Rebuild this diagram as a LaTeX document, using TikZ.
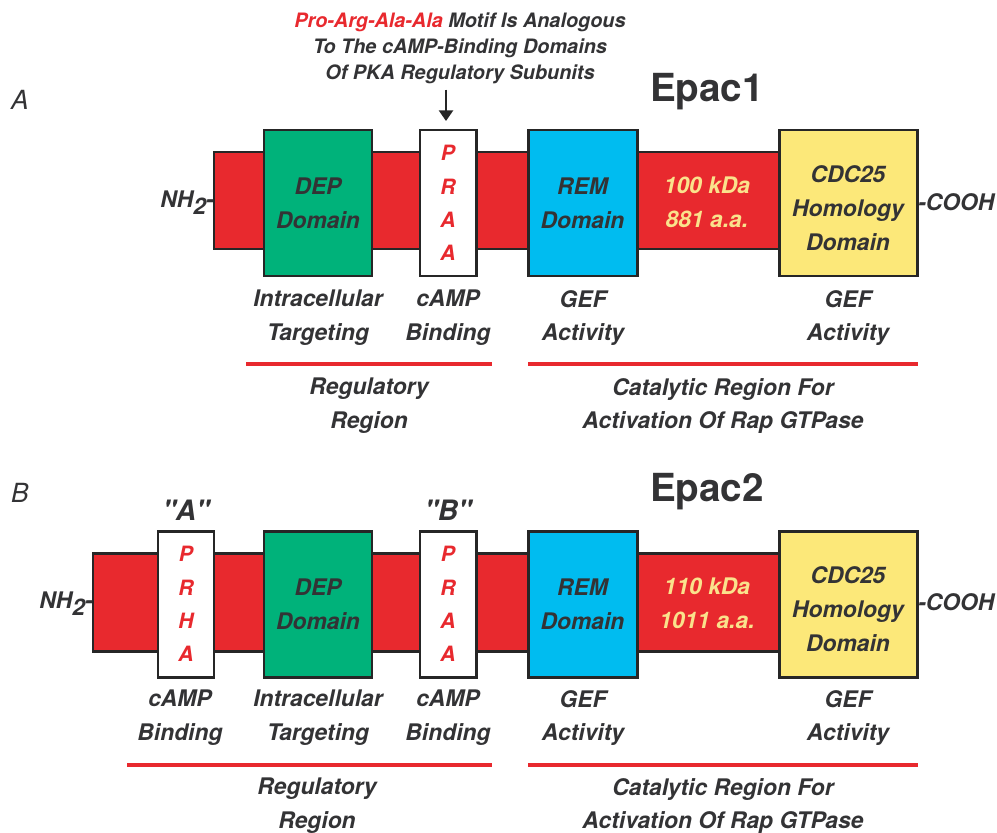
\documentclass[tikz,border=0pt]{standalone}
\usepackage{fontspec}
\setmainfont{TeX Gyre Heros}
\newfontfamily\quotefont{TeX Gyre Heros}
\usetikzlibrary{arrows.meta}
\definecolor{barred}{RGB}{232,41,46}
\definecolor{depgreen}{RGB}{0,178,122}
\definecolor{remblue}{RGB}{0,188,240}
\definecolor{cdcyellow}{RGB}{252,232,121}
\definecolor{inktext}{RGB}{51,51,53}
\definecolor{masstext}{RGB}{250,226,140}
\newcommand{\lblfont}{\fontsize{13}{19.3}\selectfont\bfseries\itshape}
\newcommand{\notefont}{\fontsize{11.3}{14.8}\selectfont\bfseries\itshape}
\newcommand{\titlefont}{\fontsize{22}{26}\selectfont\bfseries}
\newcommand{\panelfont}{\fontsize{15}{18}\selectfont\itshape}
\newcommand{\sitefont}{\fontsize{16}{19}\selectfont\quotefont\bfseries\itshape}
\tikzset{
    part/.style={draw=black!85, line width=1.7pt},
    lbl/.style={text=inktext, align=center, font=\lblfont},
    residue/.style={text=barred, align=center, font=\fontsize{12}{19}\selectfont\bfseries\itshape},
    region/.style={draw=barred, line width=1.8pt},
}

\begin{document}
\begin{tikzpicture}[x=0.02cm, y=-0.02cm]
    \useasboundingbox (0, 0) rectangle (997, 832);
    % Epac1
    \node[text=inktext, font=\panelfont] (panelA) at (20, 100) {A};
    \node[text=inktext, font=\titlefont] (epacA) at (707, 92) {Epac1};
    \node[lbl, font=\notefont] (motif) at (460, 48) {\textcolor{barred}{Pro-Arg-Ala-Ala} Motif Is Analogous\\To The cAMP-Binding Domains\\Of PKA Regulatory Subunits};
    \filldraw[part, fill=barred] (214, 152) rectangle (779, 249);
    \filldraw[part, fill=depgreen] (264, 130) rectangle (372, 276) node[pos=.5, lbl] (depA) {DEP\\Domain};
    \filldraw[part, fill=white] (420, 130) rectangle (476, 276) node[pos=.5, residue] (praaA) {P\\R\\A\\A};
    \filldraw[part, fill=remblue] (528, 130) rectangle (637, 276) node[pos=.5, lbl] (remA) {REM\\Domain};
    \filldraw[part, fill=cdcyellow] (779, 130) rectangle (917, 276) node[pos=.5, lbl, yshift=-3] (cdcA) {CDC25\\Homology\\Domain};
    \node[lbl, text=masstext] (massA) at (707, 202) {100 kDa\\881 a.a.};
    \node[lbl, anchor=east, inner sep=0pt] (nA) at (214, 203) {NH\raisebox{-4pt}{2}-};
    \node[lbl, anchor=west, inner sep=0pt] (cA) at (918, 202) {-COOH};
    \coordinate (praaAtop) at (446, 121);
    \draw[-{Triangle[width=8pt, length=6pt]}, line width=1.1pt, black!85] (motif.south -| praaAtop) -- (praaAtop);
    \node[lbl] (tgtA) at (318, 318) {Intracellular\\Targeting};
    \node[lbl] (bindA) at (448, 318) {cAMP\\Binding};
    \node[lbl] (gefremA) at (583, 318) {GEF\\Activity};
    \node[lbl] (gefcdcA) at (848, 318) {GEF\\Activity};
    \draw[region] (246, 364) -- (492, 364);
    \draw[region] (528, 364) -- (918, 364);
    \node[lbl] (regA) at (369, 406) {Regulatory\\Region};
    \node[lbl] (catA) at (723, 406) {Catalytic Region For\\Activation Of Rap GTPase};
    % Epac2
    \node[text=inktext, font=\panelfont] (panelB) at (20, 493) {B};
    \node[text=inktext, font=\titlefont] (epacB) at (707, 492) {Epac2};
    \filldraw[part, fill=barred] (93, 553) rectangle (779, 651);
    \filldraw[part, fill=white] (158, 531) rectangle (214, 677) node[pos=.5, residue] (prhaB) {P\\R\\H\\A};
    \filldraw[part, fill=depgreen] (264, 531) rectangle (372, 677) node[pos=.5, lbl] (depB) {DEP\\Domain};
    \filldraw[part, fill=white] (420, 531) rectangle (476, 677) node[pos=.5, residue] (praaB) {P\\R\\A\\A};
    \filldraw[part, fill=remblue] (528, 531) rectangle (637, 677) node[pos=.5, lbl] (remB) {REM\\Domain};
    \filldraw[part, fill=cdcyellow] (779, 531) rectangle (917, 677) node[pos=.5, lbl, yshift=-3] (cdcB) {CDC25\\Homology\\Domain};
    \node[lbl, text=masstext] (massB) at (707, 603) {110 kDa\\1011 a.a.};
    \node[lbl, anchor=east, inner sep=0pt] (nB) at (93, 604) {NH\raisebox{-4pt}{2}-};
    \node[lbl, anchor=west, inner sep=0pt] (cB) at (918, 602) {-COOH};
    \node[lbl, font=\sitefont] (siteA) at (186, 510) {"A"};
    \node[lbl, font=\sitefont] (siteB) at (448, 510) {"B"};
    \node[lbl] (bindB1) at (180, 718) {cAMP\\Binding};
    \node[lbl] (tgtB) at (318, 718) {Intracellular\\Targeting};
    \node[lbl] (bindB2) at (448, 718) {cAMP\\Binding};
    \node[lbl] (gefremB) at (583, 718) {GEF\\Activity};
    \node[lbl] (gefcdcB) at (848, 718) {GEF\\Activity};
    \draw[region] (127, 765) -- (492, 765);
    \draw[region] (528, 765) -- (918, 765);
    \node[lbl] (regB) at (317, 806) {Regulatory\\Region};
    \node[lbl] (catB) at (723, 806) {Catalytic Region For\\Activation Of Rap GTPase};
\end{tikzpicture}
\end{document}
